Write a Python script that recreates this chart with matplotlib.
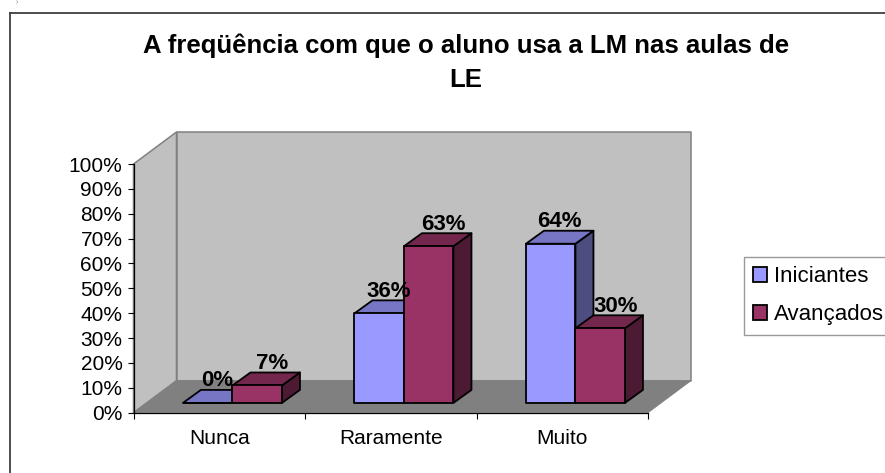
#!/usr/bin/env python
"""3D-look clustered bars, drawn as projected polygons on a flat axes."""
import matplotlib
matplotlib.use('Agg')
import matplotlib.pyplot as plt
from matplotlib.lines import Line2D
from matplotlib.patches import Patch, Polygon

plt.rcParams['font.family'] = ['Liberation Sans', 'DejaVu Sans']

W, H = 885, 473

categories = ['Nunca', 'Raramente', 'Muito']
iniciantes = [0, 36, 64]
avancados = [7, 63, 30]
series_names = ['Iniciantes', 'Avançados']
yticks = list(range(0, 101, 10))
title = 'A freqüência com que o aluno usa a LM nas aulas de\nLE'

# face, top, side
C_INI = ('#9999FF', '#7676C4', '#4D4D80')
C_AVA = ('#993366', '#74274D', '#4D1A33')

# front plane of the box in pixels
L, R, B, T = 133.5, 648, 412.7, 164
PX_X = (R - L) / len(categories)   # px per category
PX_Y = (B - T) / 100               # px per percent

# depth of the box and bars, px converted to data units
WALL_DX, WALL_DY = 43 / PX_X, 32 / PX_Y
BAR_DX, BAR_DY = 18 / PX_X, 13 / PX_Y
OFF_X, OFF_Y = 13.2 / PX_X, 9.8 / PX_Y
BAR_W = 49.5 / PX_X

fig = plt.figure(figsize=(W / 100, H / 100), dpi=100, facecolor='white')
ax = fig.add_axes([L / W, 1 - B / H, (R - L) / W, (B - T) / H])
ax.set_xlim(0, len(categories))
ax.set_ylim(0, 100)
ax.patch.set_visible(False)


def poly(pts, fc, ec, lw, z):
    ax.add_patch(Polygon(pts, closed=True, facecolor=fc, edgecolor=ec, linewidth=lw,
                         joinstyle='round', clip_on=False, zorder=z))


# box: left wall, back wall, floor
n = len(categories)
poly([(0, 0), (WALL_DX, WALL_DY), (WALL_DX, 100 + WALL_DY), (0, 100)], '#C0C0C0', '#808080', 1.1, 1)
poly([(WALL_DX, WALL_DY), (n + WALL_DX, WALL_DY), (n + WALL_DX, 100 + WALL_DY), (WALL_DX, 100 + WALL_DY)],
     '#C0C0C0', '#808080', 1.1, 1)
poly([(0, 0), (n, 0), (n + WALL_DX, WALL_DY), (WALL_DX, WALL_DY)], '#808080', '#808080', 0.6, 2)


def bar3d(x0, v, colors, z):
    x1 = x0 + BAR_W
    y0, y1 = OFF_Y, OFF_Y + v
    poly([(x1, y0), (x1 + BAR_DX, y0 + BAR_DY), (x1 + BAR_DX, y1 + BAR_DY), (x1, y1)], colors[2], 'black', 1.3, z)
    poly([(x0, y1), (x1, y1), (x1 + BAR_DX, y1 + BAR_DY), (x0 + BAR_DX, y1 + BAR_DY)], colors[1], 'black', 1.3, z)
    poly([(x0, y0), (x1, y0), (x1, y1), (x0, y1)], colors[0], 'black', 1.3, z)


for i in range(n):
    mid = i + 0.5 + OFF_X
    bar3d(mid - BAR_W, iniciantes[i], C_INI, 3 + i * 2)
    bar3d(mid, avancados[i], C_AVA, 4 + i * 2)
    # value labels sit over the top face of each bar
    for x0, v, nudge in [(mid - BAR_W, iniciantes[i], 0), (mid, avancados[i], 6)]:
        ax.annotate(f'{v}%', (x0 + (BAR_W + BAR_DX) / 2, OFF_Y + v + BAR_DY),
                    xytext=(nudge * 0.72, 2.5), textcoords='offset points',
                    ha='center', va='baseline', fontsize=16, fontweight='bold',
                    color='black', zorder=20, annotation_clip=False)

ax.set_yticks(yticks)
ax.set_yticklabels([f'{t}%' for t in yticks], fontsize=15)
ax.set_xticks(range(n + 1))
ax.set_xticklabels([])
ax.tick_params(axis='y', length=4.5, width=0.8, pad=3.5, color='black')
ax.tick_params(axis='x', length=4.5, width=0.8, color='black')
ax.set_xticks([i + 0.5 for i in range(n)], minor=True)
ax.set_xticklabels(categories, minor=True, fontsize=15)
ax.tick_params(axis='x', which='minor', length=0, pad=11.4)
for s in ('top', 'right'):
    ax.spines[s].set_visible(False)
for s in ('left', 'bottom'):
    ax.spines[s].set_linewidth(0.9)
    ax.spines[s].set_zorder(2.5)

# chart frame runs off the right and bottom of the crop
fig.add_artist(Line2D([10 / W, 10 / W], [0, 1 - 13 / H], color='#404040', lw=1.3))
fig.add_artist(Line2D([10 / W, 1], [1 - 13 / H, 1 - 13 / H], color='#404040', lw=1.3))
fig.text(17 / W, 1 - 0.5 / H, ')', fontsize=3.5, family='Liberation Serif', ha='center', va='top', color='#333333')

fig.text(466 / W, 1 - 52.5 / H, title.split('\n')[0], fontsize=18.5, fontweight='bold', ha='center', va='baseline')
fig.text(466 / W, 1 - 87 / H, title.split('\n')[1], fontsize=18.5, fontweight='bold', ha='center', va='baseline')

handles = [Patch(facecolor=C_INI[0], edgecolor='black', linewidth=1.3),
           Patch(facecolor=C_AVA[0], edgecolor='black', linewidth=1.3)]
leg = fig.legend(handles, series_names, loc='upper left', bbox_to_anchor=(743.7 / W, 1 - 256.7 / H),
                 fontsize=16, frameon=True, fancybox=False, edgecolor='#808080', facecolor='white',
                 handlelength=0.65, handleheight=0.65, handletextpad=0.3, borderpad=0.42,
                 labelspacing=0.78, borderaxespad=0)
leg.get_frame().set_linewidth(1.0)

fig.savefig('out.png', dpi=100)
